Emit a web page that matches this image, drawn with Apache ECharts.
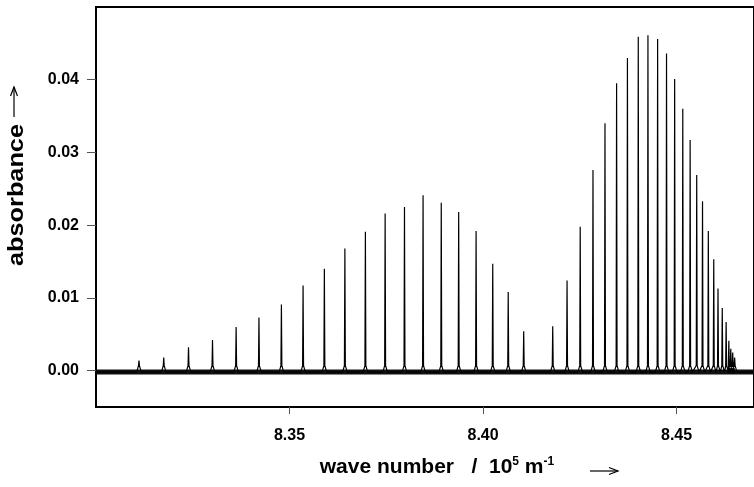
<!DOCTYPE html>
<html><head><meta charset="utf-8">
<script src="https://cdn.jsdelivr.net/npm/echarts@6/dist/echarts.min.js"></script>
<style>html,body{margin:0;padding:0;background:#fff}#c{width:754px;height:487px}</style>
</head><body><div id="c"></div>
<script>
// Peak positions (10^5 m^-1) and peak absorbances
const peakPositions = [
  8.3111, 8.3175, 8.3239, 8.3301, 8.3362, 8.3421, 8.3479, 8.3535, 8.3590, 8.3643,
  8.3696, 8.3747, 8.3797, 8.3845, 8.3892, 8.3937, 8.3982, 8.4025, 8.4065, 8.4105,
  8.4180, 8.4217, 8.4251, 8.4284, 8.4315, 8.4345, 8.4373, 8.4401, 8.4426, 8.4451,
  8.4474, 8.4495, 8.4516, 8.4535, 8.4552, 8.4567, 8.4582, 8.4596, 8.4607, 8.4618,
  8.4628, 8.4635, 8.4640, 8.4645, 8.4650
];
const peakHeights = [
  0.0014, 0.0018, 0.0032, 0.0042, 0.0060, 0.0073, 0.0091, 0.0117, 0.0140, 0.0168,
  0.0191, 0.0216, 0.0225, 0.0241, 0.0231, 0.0218, 0.0192, 0.0147, 0.0108, 0.0054,
  0.0061, 0.0124, 0.0198, 0.0276, 0.0340, 0.0395, 0.0430, 0.0459, 0.0461, 0.0456,
  0.0436, 0.0401, 0.0360, 0.0317, 0.0269, 0.0233, 0.0192, 0.0153, 0.0113, 0.0086,
  0.0067, 0.0041, 0.0030, 0.0025, 0.0018
];
const baselineLevel = -0.0002;
const xRange = [8.30, 8.47];
const yRange = [-0.005, 0.05];
const xTickValues = [8.35, 8.40, 8.45];
const yTickValues = [0, 0.01, 0.02, 0.03, 0.04];

// build the spectrum trace from the peak tables
const spectrum = [[xRange[0], baselineLevel]];
for (let i = 0; i < peakPositions.length; i++) {
  const p = peakPositions[i], h = peakHeights[i];
  spectrum.push([p - 0.0006, baselineLevel]);
  spectrum.push([p - 0.00012, baselineLevel + 0.0009]);
  spectrum.push([p, h]);
  spectrum.push([p + 0.00012, baselineLevel + 0.0009]);
  spectrum.push([p + 0.0006, baselineLevel]);
}
spectrum.push([xRange[1], baselineLevel]);
const baseline = [[xRange[0], baselineLevel], [xRange[1], baselineLevel]];

const FONT = '"Liberation Sans", Arial, Helvetica, sans-serif';
const chart = echarts.init(document.getElementById('c'), null, {renderer: 'canvas'});
const arrowStyle = {stroke: '#000', lineWidth: 1.2, fill: 'none'};
chart.setOption({
  animation: false,
  backgroundColor: '#fff',
  grid: {left: 96, top: 7, width: 665, height: 400, show: true, borderColor: '#000', borderWidth: 2, containLabel: false},
  xAxis: {
    type: 'value', min: xRange[0], max: xRange[1],
    axisLine: {show: true, onZero: false, lineStyle: {color: '#000', width: 2}},
    axisTick: {show: true, length: 7, customValues: xTickValues, lineStyle: {color: '#555', width: 1}},
    axisLabel: {show: true, customValues: xTickValues, margin: 21, color: '#000', fontFamily: FONT, fontWeight: 'bold', fontSize: 16,
      formatter: v => v.toFixed(2)},
    splitLine: {show: false}
  },
  yAxis: {
    type: 'value', min: yRange[0], max: yRange[1],
    axisLine: {show: true, onZero: false, lineStyle: {color: '#000', width: 2}},
    axisTick: {show: true, length: 9, customValues: yTickValues, lineStyle: {color: '#555', width: 1}},
    axisLabel: {show: true, customValues: yTickValues, margin: 17, color: '#000', fontFamily: FONT, fontWeight: 'bold', fontSize: 16,
      formatter: v => v.toFixed(2)},
    splitLine: {show: false}
  },
  series: [
    {type: 'line', data: baseline, symbol: 'none', silent: true, lineStyle: {color: '#111', width: 5}},
    {type: 'line', data: spectrum, symbol: 'none', sampling: null, silent: true, lineStyle: {color: '#000', width: 1.2}}
  ],
  graphic: [
    {type: 'text', x: 437, y: 467, style: {
      text: 'wave number   /  10{s|5} m{s|-1}', x: 0, y: 0, align: 'center', verticalAlign: 'middle',
      fontFamily: FONT, fontWeight: 'bold', fontSize: 21, fill: '#000',
      rich: {s: {fontFamily: FONT, fontWeight: 'bold', fontSize: 12, padding: [0, 0, 11, 0]}}
    }},
    {type: 'group', x: 0, y: 0, children: [
      {type: 'line', shape: {x1: 590, y1: 471, x2: 618, y2: 471}, style: arrowStyle},
      {type: 'polyline', shape: {points: [[609, 467.5], [618, 471], [609, 474.5]]}, style: arrowStyle}
    ]},
    {type: 'text', x: 17, y: 195, rotation: Math.PI / 2, scaleX: 1.15, style: {
      text: 'absorbance', x: 0, y: 0, align: 'center', verticalAlign: 'middle',
      fontFamily: FONT, fontWeight: 'bold', fontSize: 22, fill: '#000'}},
    {type: 'group', x: 0, y: 0, children: [
      {type: 'line', shape: {x1: 14, y1: 117, x2: 14, y2: 87}, style: arrowStyle},
      {type: 'polyline', shape: {points: [[10.5, 96], [14, 87], [17.5, 96]]}, style: arrowStyle}
    ]}
  ]
});
</script></body></html>
